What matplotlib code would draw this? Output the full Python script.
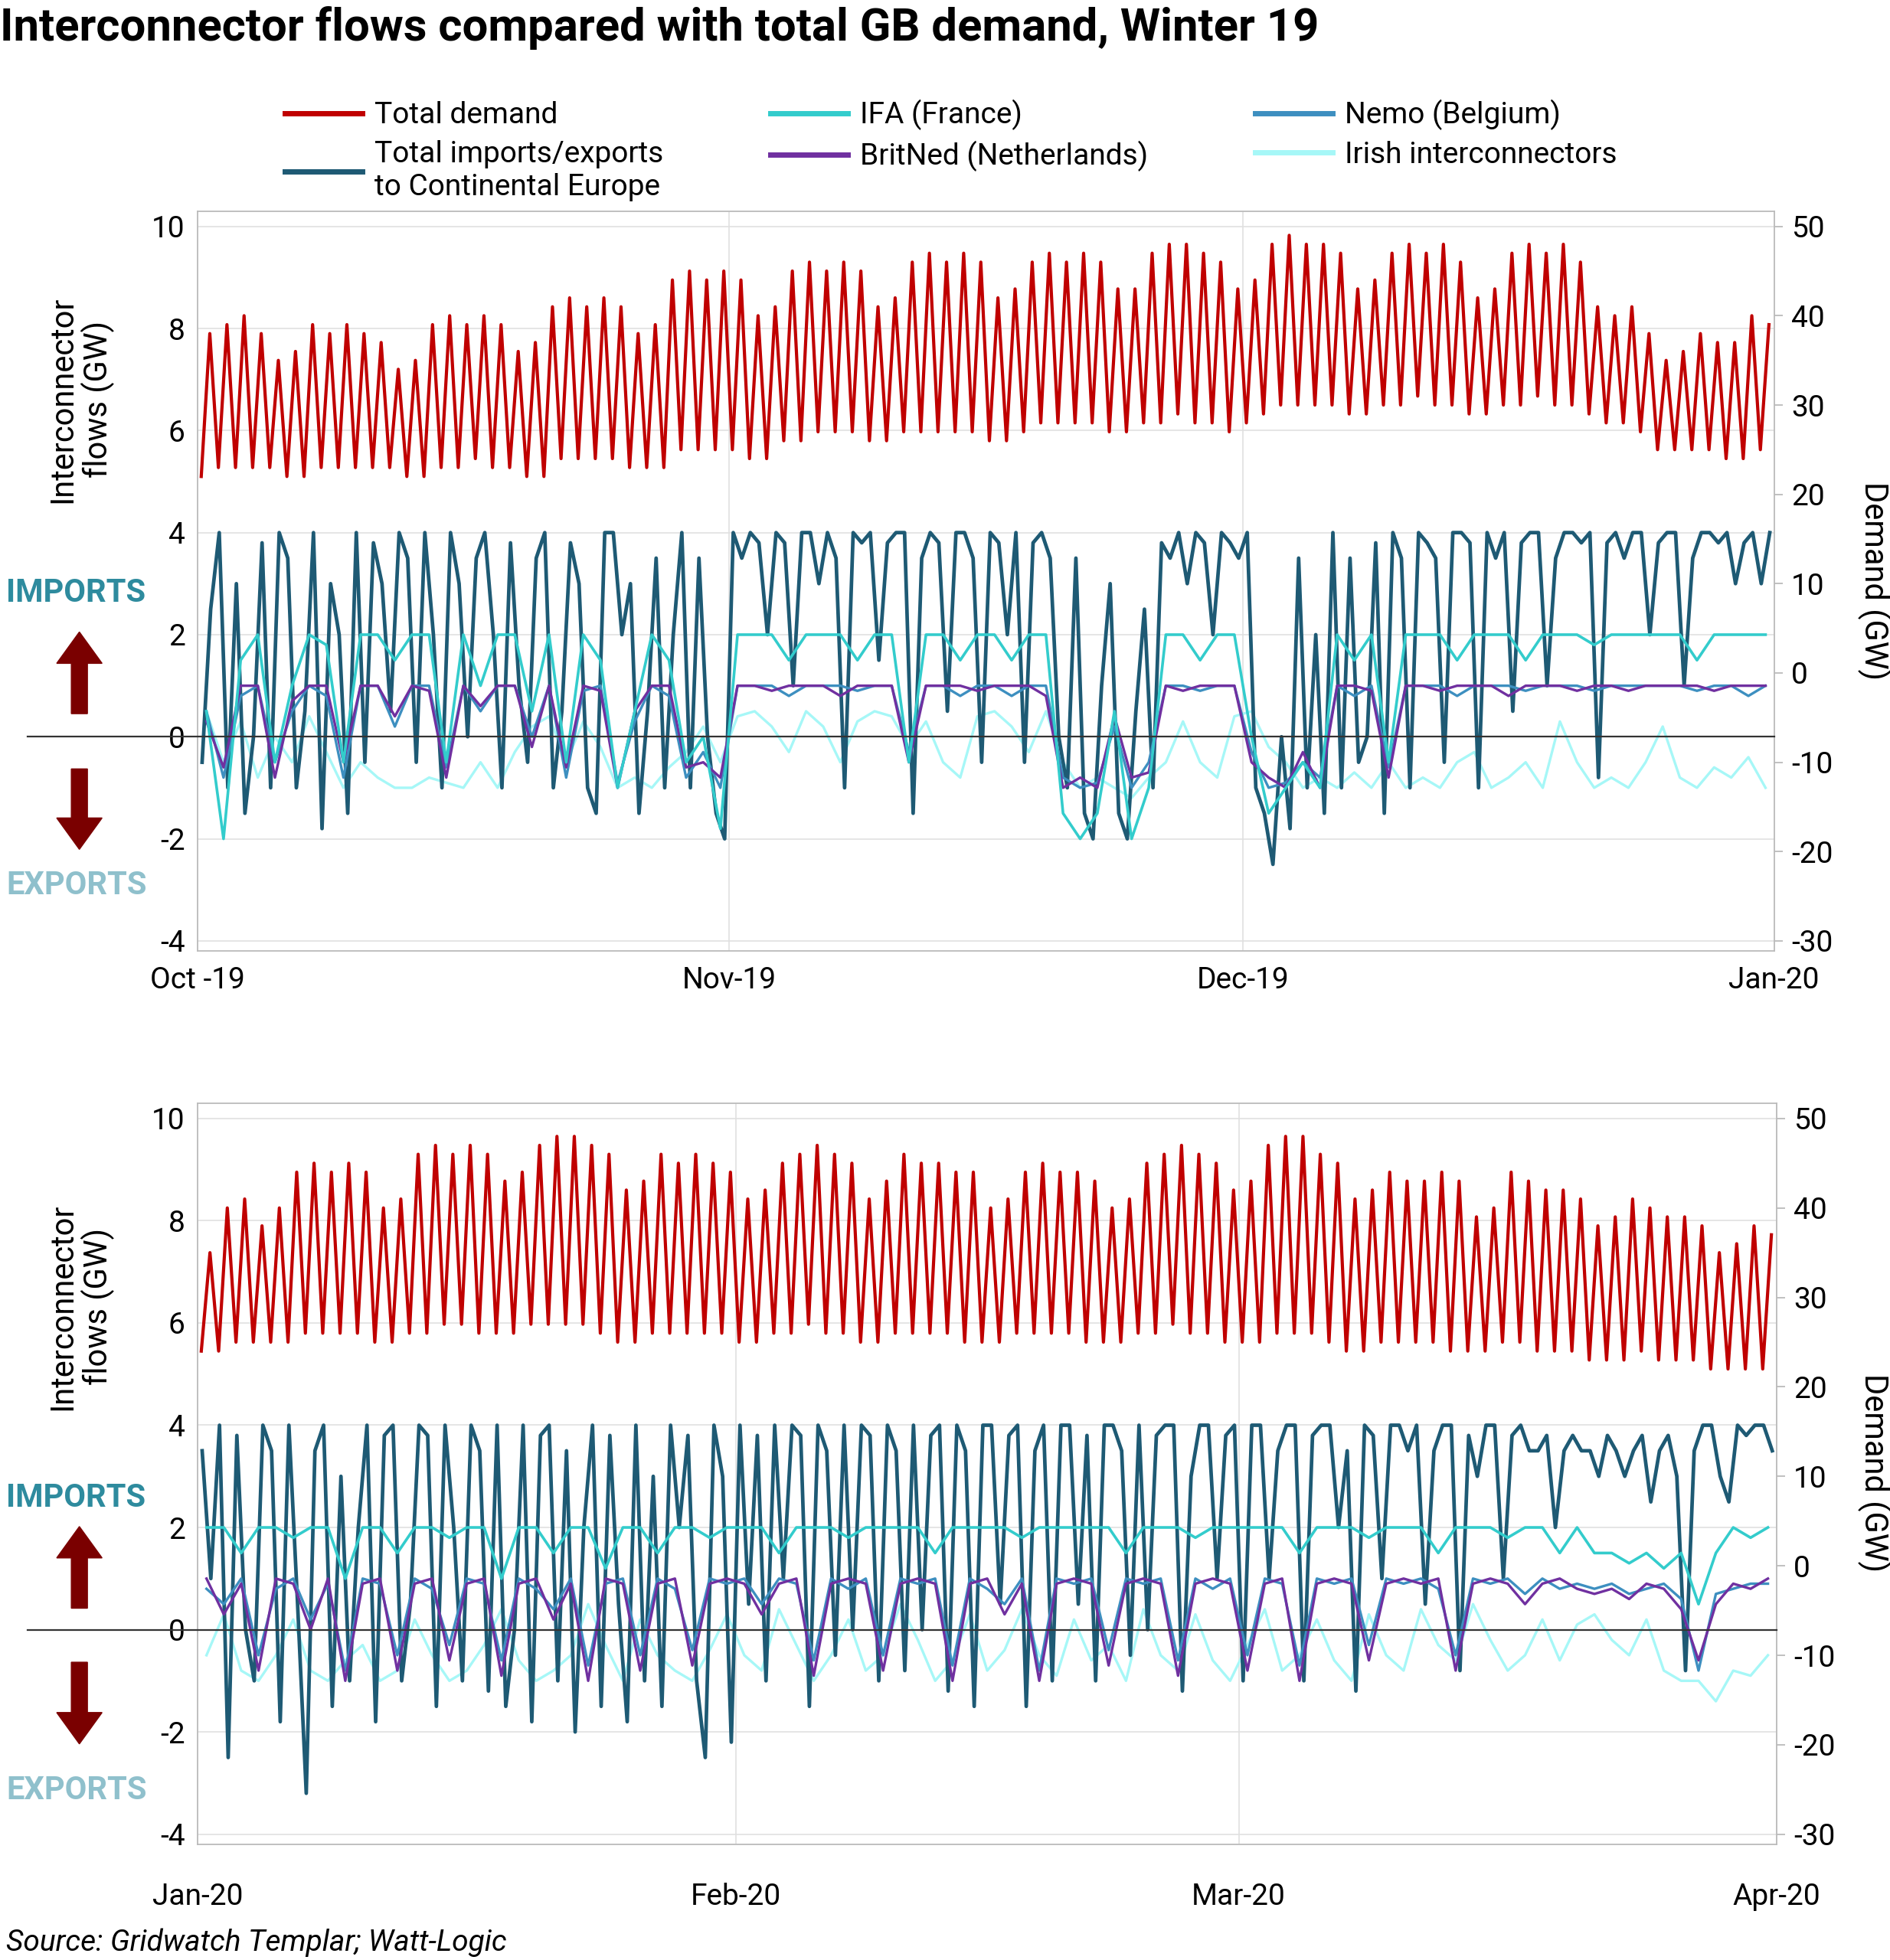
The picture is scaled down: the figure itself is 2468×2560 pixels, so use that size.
import numpy as np
import matplotlib
matplotlib.use("Agg")
import matplotlib.pyplot as plt
from matplotlib.patches import FancyArrow
from matplotlib.lines import Line2D

plt.rcParams['font.family'] = ['Roboto', 'DejaVu Sans']
plt.rcParams['axes.unicode_minus'] = False

# ---------------- DATA ----------------
top_ticks = ["Oct -19", "Nov-19", "Dec-19", "Jan-20"]
top_tick_days = [0, 31, 61, 92]
bot_ticks = ["Jan-20", "Feb-20", "Mar-20", "Apr-20"]
bot_tick_days = [0, 31, 60, 91]

top_demand_peak = [38,39,40,38,35,36,39,38,39,38,37,34,35,39,40,39,40,39,36,37,41,42,41,42,41,38,39,44,45,44,45,
                   44,40,41,45,46,45,46,45,41,42,46,47,46,47,46,42,43,46,47,46,47,46,43,43,47,48,48,47,46,43,
                   44,48,49,48,48,47,43,44,47,48,47,48,46,42,43,47,48,47,48,46,41,40,41,38,35,36,38,37,37,40,39]
top_demand_trough = [22,23,23,23,23,22,22,23,23,23,23,23,22,22,23,23,24,23,23,22,22,24,24,24,24,23,23,23,25,25,25,
                     25,24,24,26,26,27,27,27,26,26,27,27,27,27,27,26,26,27,28,28,28,28,27,27,28,28,29,28,28,27,
                     28,29,30,30,30,30,29,29,30,30,31,30,30,29,29,30,30,31,30,30,29,28,28,27,25,25,25,25,24,24,25]
bot_demand_peak = [35,40,41,38,40,44,45,44,45,44,40,41,46,47,46,47,46,43,44,47,48,48,47,46,42,43,46,45,46,45,44,
                   41,42,45,46,47,46,45,41,43,46,45,45,44,44,40,41,44,45,44,44,43,40,41,45,46,47,46,45,42,
                   43,47,48,48,46,45,41,42,44,43,43,44,43,39,40,44,43,42,42,41,38,39,41,40,39,39,38,35,36,38,37]
bot_demand_trough = [24,24,25,25,25,25,26,26,26,26,25,25,26,26,27,27,26,26,26,27,27,27,27,26,25,25,26,26,26,26,26,
                     25,25,26,26,27,26,26,25,25,26,26,26,26,25,25,25,26,26,26,26,25,25,25,26,26,27,26,26,25,
                     25,25,26,26,26,25,24,24,25,25,25,25,24,24,24,25,25,24,24,24,23,23,23,24,23,23,23,22,22,22,22]

top_total = [-0.5,2.5, 4,-1, 3,-1.5, 0,3.8, -1,4, 3.5,-1, 0.5,4, -1.8,3, 2,-1.5, 4,-0.5,
             3.8,3, 0.5,4, 3.5,-0.5, 4,2, -1,4, 3,0, 3.5,4, 2,-1, 3.8,1, -0.5,3.5,
             4,-1, 0.5,3.8, 3,-1, -1.5,4, 4,2, 3,-1.5, 0.5,3.5, -1,2, 4,-1, 3.5,0, -1.5,-2,
             4,3.5, 4,3.8, 2,4, 3.8,1, 4,4, 3,4, 3.5,-1, 4,3.8, 4,1.5, 3.8,4,
             4,-1.5, 3.5,4, 3.8,0.5, 4,4, 3.5,-0.5, 4,3.8, 2,4, -0.5,3.8, 4,3.5, 0,-1,
             3.5,-1.5, -2,1, 3,-1.5, -2,0.5, 2.5,-1, 3.8,3.5, 4,3, 4,3.8, 2,4, 3.8,3.5,
             4,-1, -1.5,-2.5, 0,-1.8, 3.5,-1, 2,-1.5, 4,-1, 3.5,-0.5, 0,3.8, -1.5,4, 3.5,-1,
             4,3.8, 3.5,-0.5, 4,4, 3.8,-1, 4,3.5, 4,0.5, 3.8,4, 4,1, 3.5,4, 4,3.8,
             4,-0.8, 3.8,4, 3.5,4, 4,2, 3.8,4, 4,1, 3.5,4, 4,3.8, 4,3, 3.8,4, 3,4]
bot_total = [3.5,1, 4,-2.5, 3.8,0, -1,4, 3.5,-1.8, 4,0.5, -3.2,3.5, 4,-1.5, 3,-1, 2,4,
             -1.8,3.8, 4,-1, 0.5,4, 3.8,-1.5, 4,2, -1,4, 3.5,-1.2, 4,-1.5, 0,4, -1.8,3.8,
             4,-1, 3.5,-2, 2,4, -1.5,3.8, 0.5,-1.8, 4,-1, 3,-1.5, 4,2, 3.8,-1, -2.5,4, 3,-2.2,
             4,0.5, 3.8,-1, 4,1, 4,3.8, -1.5,4, 3.5,-0.5, 4,0, 4,3.8, -1,4, 3.5,-0.8,
             4,0, 3.8,4, -1.2,4, 3.5,-1.5, 4,4, 0.5,3.8, 4,-1.5, 3.5,4, -1,4, 4,0.5,
             3.8,-1, 4,4, 3.5,-0.5, 4,0, 3.8,4, 4,-1.2, 3,4, 4,1, 3.8,4,
             -1,4, 4,1, 3.5,4, 4,-1, 3.8,4, 4,2, 3.5,-1.2, 4,3.8, 1,4, 4,3.5,
             4,0.5, 3.5,4, 4,-0.8, 3.8,3, 4,4, 1,3.8, 4,3.5, 3.5,3.8, 2,3.5, 3.8,3.5,
             3.5,3, 3.8,3.5, 3,3.5, 3.8,2.5, 3.5,3.8, 3,-0.8, 3.5,4, 4,3, 2.5,4, 3.8,4, 4,3.5]

top_ifa = [0.5,-2,1.5,2,-0.5,1,2,1.8,-0.5,2, 2,1.5,2,2,-0.5,2,1,2,2,0.5, 2,-0.5,2,1.5,-1,0.5,2,1.5,-0.5,0,-1.8,
           2,2,2,1.5,2,2,2,1.5,2,2, -0.5,2,2,1.5,2,2,1.5,2,2,-1.5, -2,-1.5,0.5,-2,-1,2,2,1.5,2,2,
           0,-1.5,-1,-0.5,-1,2,1.5,2,-0.5,2, 2,2,1.5,2,2,2,1.5,2,2,2, 1.8,2,2,2,2,2,1.5,2,2,2,2]
bot_ifa = [2,2,1.5,2,2,1.8,2,2,1,2, 2,1.5,2,2,1.8,2,2,1,2,2, 1.5,2,2,1.2,2,2,1.5,2,2,1.8,2,
           2,2,1.5,2,2,2,1.8,2,2,2, 2,1.5,2,2,2,2,1.8,2,2,2, 2,2,1.5,2,2,2,1.8,2,2,
           2,2,2,1.5,2,2,2,1.8,2,2, 2,1.5,2,2,2,1.8,2,2,1.5,2, 1.5,1.5,1.3,1.5,1.2,1.5,0.5,1.5,2,1.8,2]

top_nemo = [0.5,-0.8,0.8,1,-0.5,0.5,1,0.8,-0.8,1, 1,0.2,1,1,-0.6,1,0.5,1,1,0, 1,-0.8,0.9,1,-0.9,0.3,1,0.8,-0.8,-0.3,-1,
            1,1,1,0.8,1,1,1,0.9,1,1, -0.3,1,1,0.8,1,1,0.8,1,1,-0.8, -1,-0.9,0.2,-1,-0.5,1,1,0.9,1,1,
            -0.3,-1,-0.9,-0.5,-0.8,1,0.8,1,-0.6,1, 1,1,0.8,1,1,1,0.9,1,1,1, 0.9,1,1,1,1,1,0.9,1,1,0.8,1]
top_britned = [0.3,-0.6,1,1,-0.8,0.7,1,1,-0.5,1, 1,0.4,1,0.9,-0.8,1,0.6,1,1,-0.2, 1,-0.6,1,0.9,-1,0.5,1,1,-0.6,-0.5,-0.8,
               1,1,0.9,1,1,1,0.8,1,1,1, -0.5,1,1,1,0.9,1,1,1,0.8,-1, -0.8,-1,0.4,-0.8,-0.7,1,0.9,1,1,1,
               -0.5,-0.8,-1,-0.3,-1,1,1,0.9,-0.8,1, 1,0.9,1,1,1,0.8,1,1,1,0.9, 1,1,0.9,1,1,1,1,0.9,1,1,1]
bot_nemo = [0.8,0.5,1,-0.5,0.8,1,0.2,0.9,-0.8,1, 0.9,-0.5,1,0.8,-0.3,1,0.9,-0.6,1,0.8, 0.4,1,-0.7,0.9,1,-0.5,1,0.8,-0.4,1,0.9,
            1,0.5,1,0.9,-0.6,1,0.8,1,-0.5,1, 0.9,1,-0.7,1,0.8,0.5,1,-0.8,1,0.9, 1,-0.4,1,0.9,1,-0.6,1,0.8,1,
            -0.5,1,0.9,-0.7,1,0.9,1,-0.3,1,0.9, 1,0.8,-0.5,1,0.9,1,0.7,1,0.8,0.9, 0.8,0.9,0.7,0.8,0.9,0.6,-0.8,0.7,0.8,0.9,0.9]
bot_britned = [1,0.3,0.9,-0.8,1,0.9,0,1,-1,0.9, 1,-0.8,0.9,1,-0.6,0.9,1,-0.9,0.9,1, 0.2,0.9,-1,1,0.9,-0.8,0.9,1,-0.7,0.9,1,
               0.9,0.3,0.9,1,-0.9,0.9,1,0.9,-0.8,0.9, 1,0.9,-1,0.9,1,0.3,0.9,-1,0.9,1, 0.9,-0.7,0.9,1,0.9,-0.9,0.9,1,0.9,
               -0.8,0.9,1,-1,0.9,1,0.9,-0.6,0.9,1, 0.9,1,-0.8,0.9,1,0.9,0.5,0.9,1,0.8, 0.7,0.8,0.6,0.9,0.8,0.4,-0.6,0.5,0.9,0.8,1]

top_irish = [0.5,-0.5,0.3,-0.8,0,-0.5,0.4,-0.3,-1,-0.5, -0.8,-1,-1,-0.8,-0.9,-1,-0.5,-1,-0.3,0.2, 0.4,-0.5,0.3,-0.2,-1,-0.8,-1,-0.6,-0.3,0.2,-0.5,
             0.4,0.5,0.2,-0.3,0.5,0.2,-0.5,0.3,0.5,0.4, -0.2,0.3,-0.5,-0.8,0.4,0.5,0.2,-0.3,0.5,-0.5, -1,-0.8,-1,-1.2,-0.8,-0.5,0.3,-0.5,-0.8,0.4,
             0.5,-0.2,-0.5,-1,-0.8,-1,-0.7,-1,-0.5,-1, -0.8,-1,-0.5,-0.3,-1,-0.8,-0.5,-1,0.3,-0.5, -1,-0.8,-1,-0.5,0.2,-0.8,-1,-0.6,-0.8,-0.4,-1]
bot_irish = [-0.5,0.3,-0.8,-1,-0.5,0.2,-0.8,-1,-0.6,-0.3, -1,-0.8,0.2,-0.5,-1,-0.8,-0.3,0.4,-0.6,-1, -0.8,-0.5,0.5,-0.3,-1,0.2,-0.5,-0.8,-1,-0.4,0.3,
             -0.5,-0.8,0.4,-0.3,-1,-0.5,0.2,-0.8,-0.5,0.5, -0.2,-1,-0.6,0.3,-0.8,-0.4,0.4,-0.5,-0.9,0.2, -0.6,-0.3,-1,0.4,-0.5,-0.8,0.3,-0.6,-1,
             -0.3,0.4,-0.8,-0.5,0.2,-0.6,-1,0.3,-0.5,-0.8, 0.4,-0.3,-0.6,0.5,-0.2,-0.8,-0.5,0.2,-0.6,0.1, 0.3,-0.2,-0.5,0.2,-0.8,-1,-1,-1.4,-0.8,-0.9,-0.5]

C_DEM = '#c00000'; C_TOT = '#1e5a74'; C_IFA = '#33cccc'; C_BN = '#7030a0'; C_NEMO = '#3d8fc0'; C_IR = '#a6f7f7'

# ---------------- FIGURE ----------------
W, H = 1500.0, 1560.0
fig = plt.figure(figsize=(24.68, 25.6), dpi=100)

def fx(x): return x / W
def fy(y): return 1 - y / H

def series_x(n, ndays):
    return np.arange(n) * (ndays / n) + 0.5 * ndays / n

TICK_FS = 28

def panel(rect, ndays, peaks, troughs, total, ifa, nemo, bn, irish, ticks, tick_days, xlab_pad, ylab_y, rlab_y):
    ax = fig.add_axes(rect)
    lo, hi = -4.2, 10.3
    ax.set_ylim(lo, hi); ax.set_xlim(0, ndays)
    ax.plot(series_x(len(irish), ndays), irish, color=C_IR, lw=2.4, zorder=2)
    ax.plot(series_x(len(total), ndays), total, color=C_TOT, lw=3.4, zorder=3)
    ax.plot(series_x(len(nemo), ndays), nemo, color=C_NEMO, lw=2.4, zorder=4)
    ax.plot(series_x(len(bn), ndays), bn, color=C_BN, lw=2.4, zorder=4)
    ax.plot(series_x(len(ifa), ndays), ifa, color=C_IFA, lw=2.6, zorder=5)
    ax.axhline(0, xmin=-0.108, xmax=1, color='#333333', lw=1.6, clip_on=False, zorder=6)
    ax.set_yticks(range(-4, 11, 2))
    ax.set_xticks(tick_days); ax.set_xticklabels(ticks)
    ax.tick_params(axis='x', length=0, labelsize=TICK_FS, pad=xlab_pad)
    ax.tick_params(axis='y', length=0, labelsize=TICK_FS, pad=12)
    ax.grid(True, axis='both', color='#e0e0e0', lw=1.2)
    ax.set_axisbelow(True)
    for s in ax.spines.values():
        s.set_color('#bbbbbb'); s.set_linewidth(1.3)

    ax2 = ax.twinx()
    ax2.set_ylim(5.714 * lo - 7.14, 5.714 * hi - 7.14)
    dx = np.array([[d + 0.2, d + 0.7] for d in range(len(peaks))]).ravel()
    dy = np.array([[t, p] for t, p in zip(troughs, peaks)]).ravel()
    ax2.plot(dx, dy, color=C_DEM, lw=3.0, zorder=7)
    ax2.set_yticks(range(-30, 51, 10))
    ax2.tick_params(axis='y', length=8, width=1.3, color='#bbbbbb', labelsize=TICK_FS, pad=8)
    for s in ax2.spines.values():
        s.set_visible(False)
    fig.text(fx(64), fy(ylab_y), "Interconnector\nflows (GW)", fontsize=30, rotation=90,
             ha='center', va='center', linespacing=1.1)
    fig.text(fx(1487), fy(rlab_y), "Demand (GW)", fontsize=30, rotation=270,
             ha='center', va='center')
    return ax

panel([fx(157), fy(757), fx(1408) - fx(157), fy(168) - fy(757)], 92,
      top_demand_peak, top_demand_trough, top_total, top_ifa, top_nemo, top_britned, top_irish,
      top_ticks, top_tick_days, 14, 318, 462)
panel([fx(157), fy(1468), fx(1410) - fx(157), fy(878) - fy(1468)], 91,
      bot_demand_peak, bot_demand_trough, bot_total, bot_ifa, bot_nemo, bot_britned, bot_irish,
      bot_ticks, bot_tick_days, 36, 1040, 1172)

# title and source
fig.text(0.0, fy(22), "Interconnector flows compared with total GB demand, Winter 19",
         fontsize=43, fontweight='bold', va='center', ha='left')
fig.text(fx(5), fy(1546), "Source: Gridwatch Templar; Watt-Logic", fontsize=28,
         style='italic', va='center', ha='left')

# imports / exports annotations
for imp_y, up0, up1, dn0, dn1, exp_y in [(472, 568, 503, 612, 676, 705), (1192, 1280, 1215, 1323, 1388, 1425)]:
    fig.text(fx(5), fy(imp_y), "IMPORTS", color='#2e8b9e', fontsize=30, fontweight='bold', va='center')
    fig.text(fx(5), fy(exp_y), "EXPORTS", color='#8fc0cc', fontsize=30, fontweight='bold', va='center')
    for y0, y1 in [(up0, up1), (dn0, dn1)]:
        fig.patches.append(FancyArrow(fx(63), fy(y0), 0, fy(y1) - fy(y0), width=0.0085,
                                      head_width=0.024, head_length=0.016,
                                      length_includes_head=True, color='#7a0000',
                                      transform=fig.transFigure, figure=fig))

# legend
handles = [Line2D([], [], color=C_DEM, lw=5), Line2D([], [], color=C_TOT, lw=5),
           Line2D([], [], color=C_IFA, lw=5), Line2D([], [], color=C_BN, lw=5),
           Line2D([], [], color=C_NEMO, lw=5), Line2D([], [], color=C_IR, lw=5)]
labels = ["Total demand", "Total imports/exports\nto Continental Europe", "IFA (France)",
          "BritNed (Netherlands)", "Nemo (Belgium)", "Irish interconnectors"]
fig.legend(handles, labels, ncol=3, loc='upper left', bbox_to_anchor=(fx(205), fy(58)),
           frameon=False, fontsize=28, handlelength=2.6, handletextpad=0.4,
           columnspacing=3.6, labelspacing=0.35)

fig.savefig("out.png", dpi=100)
